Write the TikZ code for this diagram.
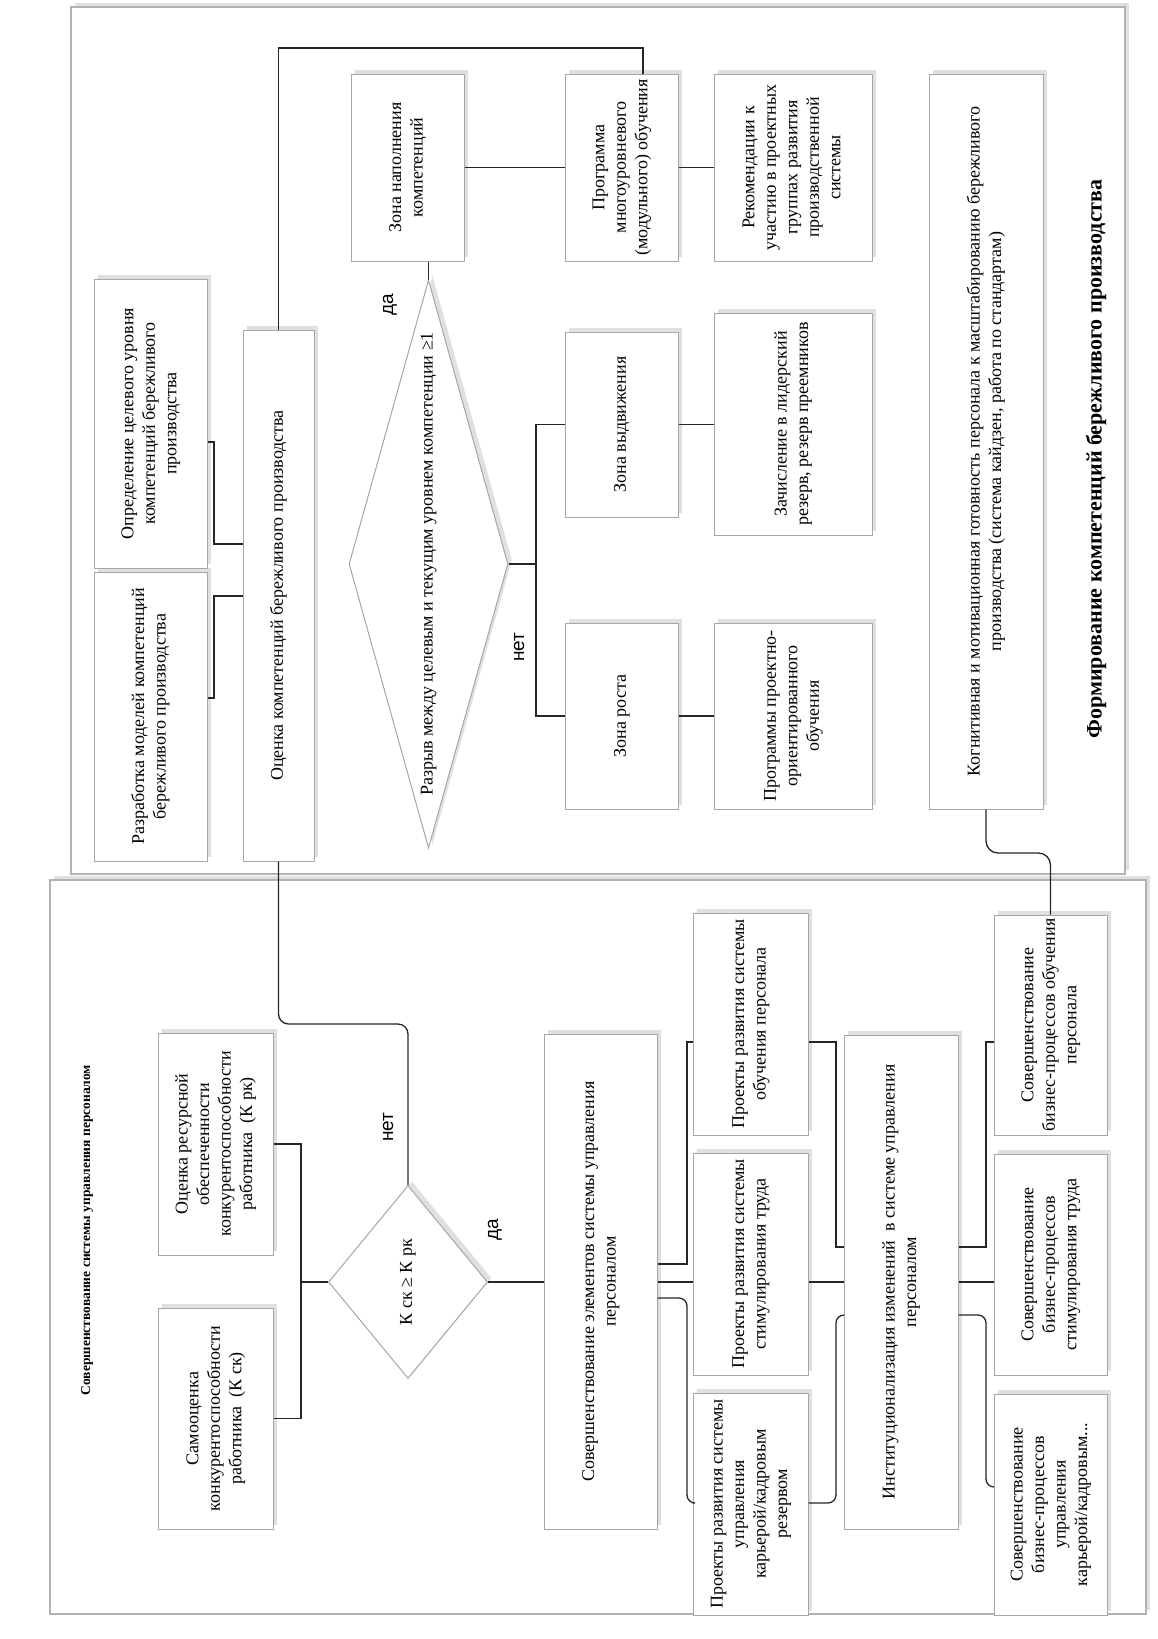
\documentclass[tikz,border=0pt]{standalone}
\usepackage{fontspec}
\setmainfont{Liberation Serif}
\newfontfamily\lsans{Liberation Sans}
\usepackage{graphicx}
\usetikzlibrary{shapes.geometric,shadows}
\newcommand{\rtx}[1]{\rotatebox{90}{\begin{tabular}{@{}c@{}}#1\end{tabular}}}
\begin{document}
\begin{tikzpicture}[x=1pt,y=-1pt, font=\fontsize{18}{21.5}\selectfont,
  shd/.style={drop shadow={shadow xshift=4pt, shadow yshift=4pt, fill=black!30, opacity=0.4}},
  boxn/.style={draw=gray!70, line width=1pt, fill=white, inner sep=0pt, shd},
  frm/.style={draw=gray!60, line width=1.5pt, fill=white, inner sep=0pt, shd},
  dia/.style={diamond, draw=gray!70, line width=1pt, fill=white, inner sep=0pt, shd},
  conn/.style={draw=black!85, line width=1.3pt},
  lbl/.style={rotate=90, inner sep=0pt, font=\lsans\fontsize{19}{22}\selectfont},
]
\fill[white] (0,0) rectangle (1158,1639);
\useasboundingbox (0,0) rectangle (1158,1639);

% frames
\node[frm, minimum width=1054pt, minimum height=867pt] (f1) at (598,440.5) {};
\node[frm, minimum width=1096pt, minimum height=734pt] (f2) at (598,1247) {};

% frame 1 content
\node[boxn, minimum width=113pt, minimum height=289pt] (razr) at (150.5,716.5) {\rtx{Разработка моделей компетенций\\бережливого производства}};
\node[boxn, minimum width=113pt, minimum height=289pt] (opred) at (150.5,423.5) {\rtx{Определение целевого уровня\\компетенций бережливого\\производства}};
\node[boxn, minimum width=71pt, minimum height=531pt] (ocenka) at (278.5,595.5) {\rtx{Оценка компетенций бережливого производства}};
\node[dia, minimum width=159pt, minimum height=568pt] (d1) at (428.5,564) {};
\node[rotate=90, inner sep=0pt] (d1t) at (d1.center) {Разрыв между целевым и текущим уровнем компетенции ≥1};
\node[boxn, minimum width=113pt, minimum height=187pt] (zonaN) at (407.5,167.5) {\rtx{Зона наполнения\\компетенций}};
\node[boxn, minimum width=113pt, minimum height=187pt] (prog) at (621.5,167.5) {\rtx{Программа\\многоуровневого\\(модульного) обучения}};
\node[boxn, minimum width=158pt, minimum height=187pt] (rekom) at (793,167.5) {\rtx{Рекомендации к\\участию в проектных\\группах развития\\производственной\\системы}};
\node[boxn, minimum width=113pt, minimum height=185pt] (zonaV) at (621.5,424.5) {\rtx{Зона выдвижения}};
\node[boxn, minimum width=158pt, minimum height=222pt] (zach) at (793,424) {\rtx{Зачисление в лидерский\\резерв, резерв преемников}};
\node[boxn, minimum width=113pt, minimum height=186pt] (zonaR) at (621.5,716) {\rtx{Зона роста}};
\node[boxn, minimum width=158pt, minimum height=186pt] (progP) at (793,716) {\rtx{Программы проектно-\\ориентированного\\обучения}};
\node[boxn, minimum width=114pt, minimum height=735pt] (kogn) at (986,441.5) {\rtx{Когнитивная и мотивационная готовность персонала к масштабированию бережливого\\производства (система кайдзен, работа по стандартам)}};
\node[rotate=90, inner sep=0pt, font=\bfseries\fontsize{22}{26}\selectfont] (t1) at (1096,459) {Формирование компетенций бережливого производства};

\node[lbl] (l1) at (390,305) {да};
\node[lbl] (l2) at (519,647) {нет};

% frame 2 content
\node[rotate=90, inner sep=0pt, font=\bfseries\fontsize{13.5}{16}\selectfont] (t2) at (87,1230) {Совершенствование системы управления персоналом};
\node[boxn, minimum width=115pt, minimum height=222pt] (ocres) at (215.5,1144) {\rtx{Оценка ресурсной\\обеспеченности\\конкурентоспособности\\работника\ \ (К рк)}};
\node[boxn, minimum width=115pt, minimum height=221pt] (samo) at (215.5,1418.5) {\rtx{Самооценка\\конкурентоспособности\\работника\ \ (К ск)}};
\node[dia, minimum width=159pt, minimum height=193pt] (d2) at (408,1282) {};
\node[rotate=90, inner sep=0pt] (d2t) at (d2.center) {К ск ≥ К рк};
\node[lbl] (l3) at (388,1127) {нет};
\node[lbl] (l4) at (495,1230) {да};
\node[boxn, minimum width=113pt, minimum height=495pt] (sovEl) at (600.5,1281.5) {\rtx{Совершенствование элементов системы управления\\персоналом}};
\node[boxn, minimum width=115pt, minimum height=222pt] (prObuch) at (750.5,1024) {\rtx{Проекты развития системы\\обучения персонала}};
\node[boxn, minimum width=115pt, minimum height=222pt] (prStim) at (750.5,1264) {\rtx{Проекты развития системы\\стимулирования труда}};
\node[boxn, minimum width=115pt, minimum height=222pt] (prKar) at (750.5,1504) {\rtx{Проекты развития системы\\управления\\карьерой/кадровым\\резервом}};
\node[boxn, minimum width=114pt, minimum height=494pt] (inst) at (901,1282) {\rtx{Институционализация изменений\ \ в системе управления\\персоналом}};
\node[boxn, minimum width=113pt, minimum height=220pt] (bpObuch) at (1050.5,1025) {\rtx{Совершенствование\\бизнес-процессов обучения\\персонала}};
\node[boxn, minimum width=113pt, minimum height=221pt] (bpStim) at (1050.5,1264.5) {\rtx{Совершенствование\\бизнес-процессов\\стимулирования труда}};
\node[boxn, minimum width=113pt, minimum height=221pt] (bpKar) at (1050.5,1504.5) {\rtx{Совершенствование\\бизнес-процессов\\управления\\карьерой/кадровым...}};

% connectors frame 1
\draw[conn] (ocenka.north) |- (643,48) -- (prog.north -| 643,0);
\draw[conn] (d1.north) -- (d1.north |- zonaN.south);
\draw[conn] (zonaN.east) -- (prog.west);
\draw[conn] (prog.east) -- (rekom.west);
\draw[conn] (d1.east) -- (d1.east -| 536,0);
\draw[conn] (zonaV.west) -| (536,570) |- (zonaR.west);
\draw[conn] (zonaV.east) -- (zach.west |- zonaV.east);
\draw[conn] (zonaR.east) -- (progP.west);
\draw[conn] (opred.east |- 0,442) -| (214,544) -- (ocenka.west |- 0,544);
\draw[conn] (ocenka.west |- 0,596) -| (214,698) -- (razr.east |- 0,698);

% cross-frame connectors
\draw[conn, rounded corners=10pt] (ocenka.south) |- (d2.north |- 0,1024) -- (d2.north);
\draw[conn, rounded corners=12pt] (kogn.south) |- (bpObuch.north |- 0,853) -- (bpObuch.north);

% connectors frame 2
\coordinate (j1) at (301,1282);
\draw[conn] (ocres.east) -| (j1) |- (samo.east);
\draw[conn] (j1) -- (d2.west);
\draw[conn] (d2.east) -- (sovEl.west |- d2.east);
\draw[conn] (sovEl.east |- 0,1264) -| (687,1042) -- (prObuch.west |- 0,1042);
\draw[conn] (sovEl.east |- 0,1282) -- (prStim.west |- 0,1282);
\draw[conn, rounded corners=8pt] (sovEl.east |- 0,1298) -| (687,1503) -- (prKar.west |- 0,1503);
\draw[conn] (prObuch.east |- 0,1042) -| (836,1247) -- (inst.west |- 0,1247);
\draw[conn] (prStim.east |- 0,1282) -- (inst.west |- 0,1282);
\draw[conn, rounded corners=8pt] (prKar.east |- 0,1503) -| (836,1315) -- (inst.west |- 0,1315);
\draw[conn] (inst.east |- 0,1247) -| (986,1042) -- (bpObuch.west |- 0,1042);
\draw[conn] (inst.east |- 0,1282) -- (bpStim.west |- 0,1282);
\draw[conn, rounded corners=8pt] (inst.east |- 0,1315) -| (986,1487) -- (bpKar.west |- 0,1487);
\end{tikzpicture}
\end{document}
